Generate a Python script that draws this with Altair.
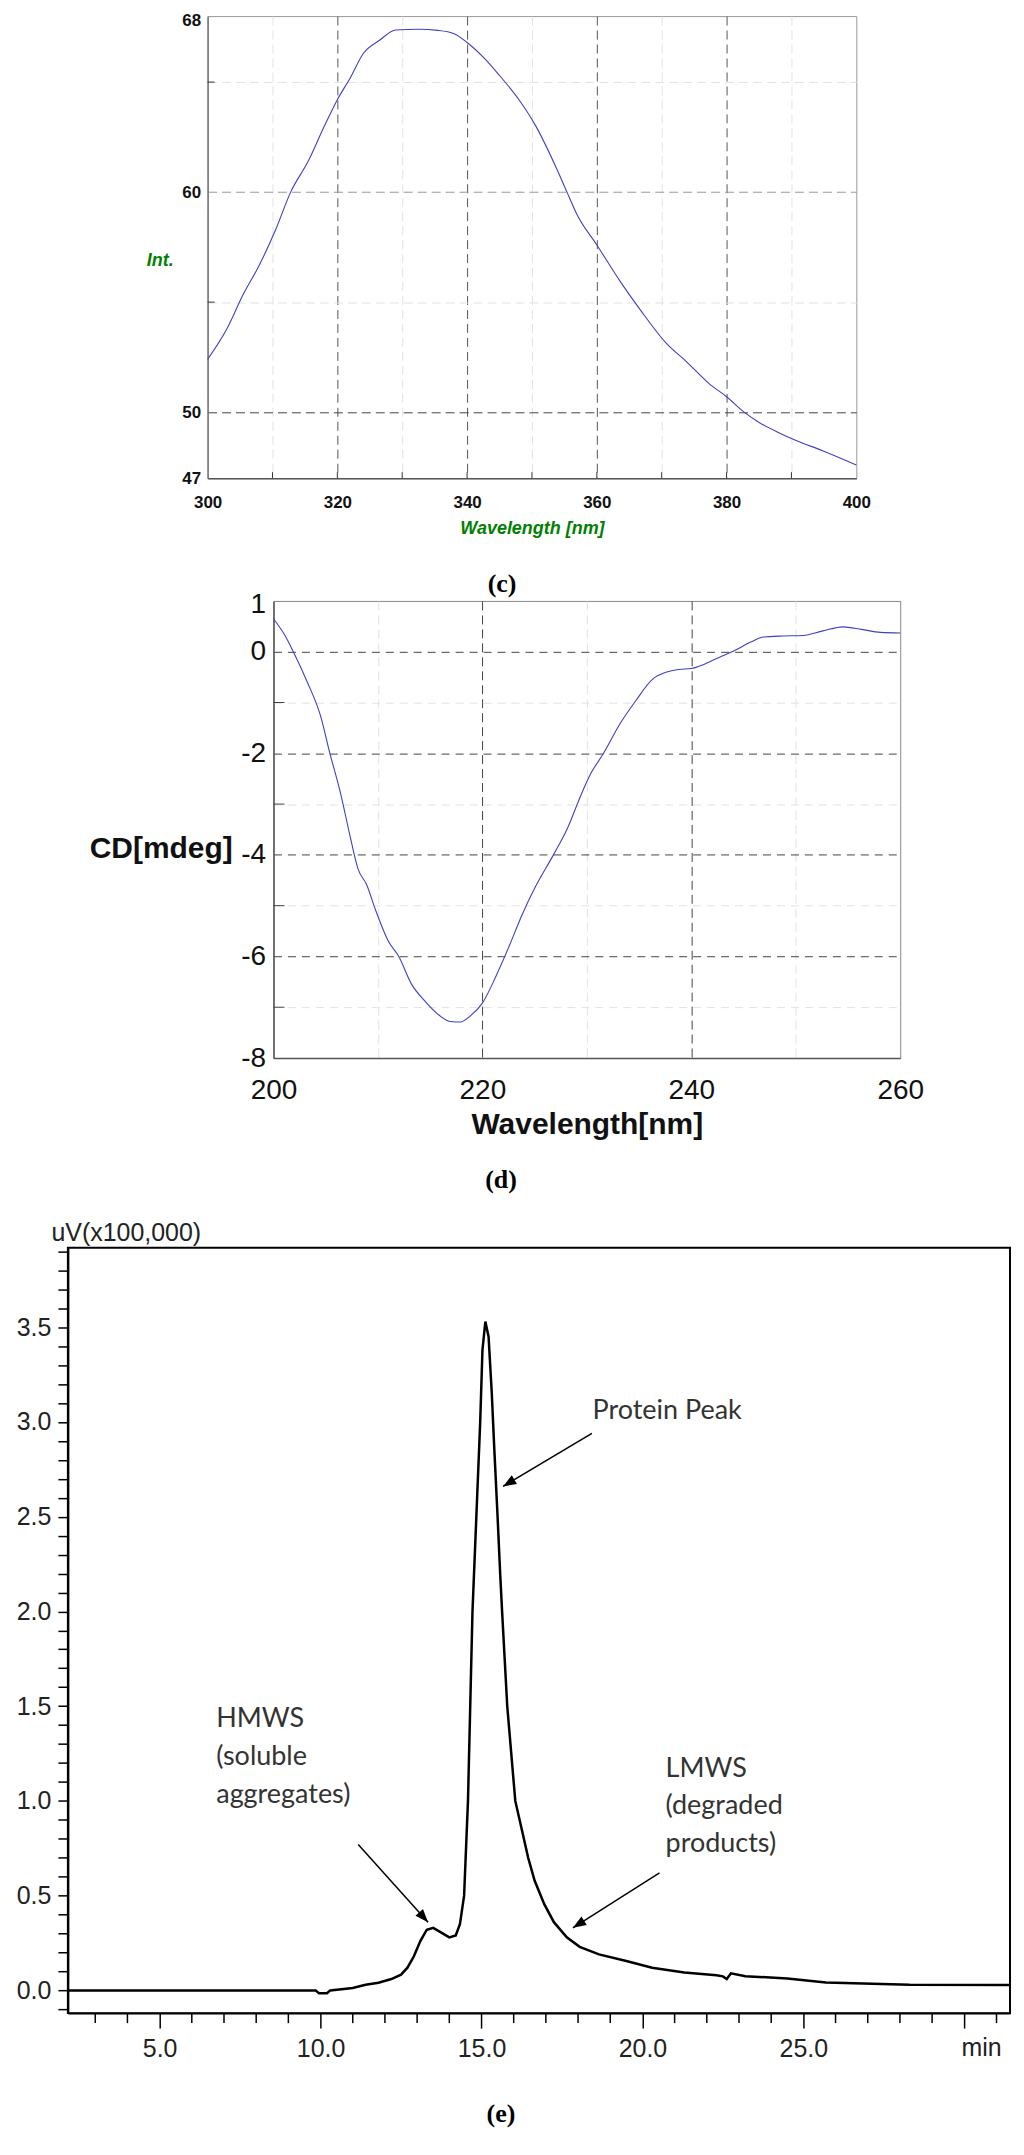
import json
import altair as alt
import pandas as pd

# ---------------- (c) intrinsic fluorescence ----------------
C_WAVELENGTH = [300, 303, 305.4, 308, 310.5, 312.8, 315.5, 318, 320, 322, 324, 326.5, 329, 332.5,
                335.5, 338, 340, 342.6, 345, 348, 350.6, 353.6, 355.4, 357, 360, 363.7, 366.7,
                370.8, 373.8, 377.3, 380, 382.7, 385.2, 387.8, 390.8, 394.8, 400]
C_INTENSITY = [52.4, 53.8, 55.3, 56.7, 58.3, 60.0, 61.4, 63.0, 64.2, 65.2, 66.3, 66.9, 67.37, 67.4,
               67.35, 67.2, 66.8, 66.1, 65.3, 64.2, 63.0, 61.2, 60.0, 58.95, 57.6, 55.9, 54.65,
               53.1, 52.3, 51.3, 50.7, 50.0, 49.5, 49.1, 48.7, 48.25, 47.6]
C_X_DOMAIN = [300, 400]
C_Y_DOMAIN = [47, 68]
C_X_TICKS = [300, 310, 320, 330, 340, 350, 360, 370, 380, 390, 400]
C_X_LABELS = [300, 320, 340, 360, 380, 400]
C_X_MAJOR = [320, 340, 360, 380]
C_Y_TICKS = [47, 50, 55, 60, 65, 68]
C_Y_LABELS = [47, 50, 60, 68]
C_Y_MINOR = [55, 65]

# ---------------- (d) far-UV CD ----------------
D_WAVELENGTH = [200, 201.1, 201.9, 203.2, 204.5, 205.4, 206.4, 207.3, 208.1, 208.9, 209.8, 211, 212,
                213.2, 214.5, 215.7, 216.9, 217.9, 218.8, 220, 221.3, 222.6, 223.8, 225.1, 226.8,
                228.2, 229.4, 230.4, 231.6, 233.2, 234.7, 236.3, 237.5, 238.8, 240, 241.3, 242.9,
                244.1, 245.7, 246.9, 248.8, 250.7, 252.6, 254.5, 256.3, 258.1, 260]
D_CD = [0.65, 0.32, 0.0, -0.58, -1.26, -2.0, -2.77, -3.6, -4.28, -4.58, -5.1, -5.7, -6.0, -6.54,
        -6.88, -7.13, -7.28, -7.29, -7.18, -6.92, -6.39, -5.78, -5.18, -4.62, -4.0, -3.45, -2.84,
        -2.39, -2.0, -1.41, -0.96, -0.54, -0.41, -0.35, -0.33, -0.24, -0.09, 0.02, 0.19, 0.29,
        0.31, 0.32, 0.41, 0.49, 0.44, 0.38, 0.37]
D_X_DOMAIN = [200, 260]
D_Y_DOMAIN = [-8, 1]
D_X_TICKS = [200, 210, 220, 230, 240, 250, 260]
D_X_LABELS = [200, 220, 240, 260]
D_X_MAJOR = [220, 240]
D_Y_TICKS = [-8, -7, -6, -5, -4, -3, -2, -1, 0, 1]
D_Y_LABELS = [1, 0, -2, -4, -6, -8]
D_Y_MAJOR = [0, -2, -4, -6]
D_Y_MINOR = [-1, -3, -5, -7]

# ---------------- (e) SEC chromatogram ----------------
E_TIME = [2.15, 9.85, 9.95, 10.2, 10.3, 11.0, 11.4, 11.8, 12.2, 12.5, 12.7, 12.9, 13.1, 13.3, 13.5,
          13.7, 14.0, 14.2, 14.33, 14.46, 14.58, 14.65, 14.72, 14.84, 14.96, 15.03, 15.12, 15.22,
          15.32, 15.4, 15.5, 15.58, 15.64, 15.72, 15.8, 15.9, 16.05, 16.25, 16.45, 16.65, 16.95,
          17.25, 17.65, 18.05, 18.65, 19.5, 20.3, 21.3, 22.3, 22.5, 22.62, 22.75, 23.2, 24.5,
          25.7, 28.3, 31.42]
E_SIGNAL = [0.0, 0.0, -0.015, -0.015, 0.0, 0.013, 0.03, 0.04, 0.06, 0.083, 0.12, 0.18, 0.26, 0.32,
            0.33, 0.31, 0.28, 0.29, 0.35, 0.5, 1.0, 1.5, 2.0, 2.5, 3.0, 3.38, 3.53, 3.45, 3.15,
            2.85, 2.5, 2.2, 2.0, 1.75, 1.5, 1.3, 1.0, 0.85, 0.7, 0.58, 0.455, 0.36, 0.28, 0.23,
            0.19, 0.155, 0.12, 0.095, 0.08, 0.074, 0.06, 0.09, 0.075, 0.063, 0.042, 0.03, 0.028]
E_X_DOMAIN = [2.15, 31.42]
E_Y_DOMAIN = [-0.12, 3.92]
E_X_MAJOR = [5, 10, 15, 20, 25, 30]
E_X_LABELS = [5, 10, 15, 20, 25]
E_X_MINOR = [m for m in range(3, 32) if m % 5]
E_Y_TICKS = [round(-0.1 + 0.1 * i, 1) for i in range(41)]
E_Y_LABELS = [0.0, 0.5, 1.0, 1.5, 2.0, 2.5, 3.0, 3.5]
E_NOTE_TEXT = ["Protein Peak", "HMWS", "(soluble", "aggregates)", "LMWS", "(degraded", "products)"]
E_NOTE_X = [18.45, 6.76, 6.76, 6.76, 20.72, 20.72, 20.72]
E_NOTE_Y = [3.06, 1.43, 1.23, 1.03, 1.17, 0.975, 0.775]
E_ARROW_X0 = [18.43, 11.17, 20.53]
E_ARROW_Y0 = [2.94, 0.77, 0.62]
E_ARROW_X1 = [15.67, 13.34, 17.84]
E_ARROW_Y1 = [2.66, 0.36, 0.33]
E_ARROW_ANGLE = [239, 138, 238]

FONT = "Liberation Sans"
SERIF = "Liberation Serif"
GREEN = "#008000"
BLUE = "#4040c0"
ARROW = "M0,0L-0.38,1L0.38,1Z"


def in_list(vals):
    return "indexof(" + json.dumps(vals) + ", datum.value) >= 0"


def caption(text, orient, dx, offset, anchor="middle"):
    return alt.TitleParams(text=text, orient=orient, anchor=anchor, frame="group", dx=dx,
                           offset=offset, baseline="bottom" if orient == "top" else "top",
                           font=SERIF, fontSize=26, fontWeight="bold", color="#000")


def spacer(w, h):
    return alt.Chart(pd.DataFrame({"s": [0]})).mark_point(opacity=0).encode(
        x=alt.value(10), y=alt.value(10)
    ).properties(width=w, height=h, view=alt.ViewBackground(stroke="transparent"))


# ---------------- panel (c) ----------------
CW, CH = 650, 463
c_xs = alt.Scale(domain=C_X_DOMAIN, nice=False, zero=False)
c_ys = alt.Scale(domain=C_Y_DOMAIN, nice=False, zero=False)
c_xaxis = alt.Axis(
    values=C_X_TICKS, labelExpr=in_list(C_X_LABELS) + " ? datum.label : ''",
    labelFont=FONT, labelFontSize=17, labelFontWeight="bold", labelColor="#111",
    labelPadding=16, labelOverlap=False, labelFlush=False, ticks=False, tickSize=0,
    domainColor="#555", domainWidth=1.5, grid=True, gridDash=[9, 5], gridWidth=1,
    gridColor={"condition": {"test": in_list(C_X_MAJOR), "value": "#555"}, "value": "#e2e2e2"},
    gridOpacity={"condition": {"test": in_list(C_X_DOMAIN), "value": 0}, "value": 1},
    title="Wavelength [nm]", titleFont=FONT, titleFontSize=18, titleFontStyle="italic",
    titleFontWeight="bold", titleColor=GREEN, titleY=50, titleBaseline="middle")
c_yaxis = alt.Axis(
    values=C_Y_TICKS, labelExpr=in_list(C_Y_LABELS) + " ? datum.label : ''",
    labelFont=FONT, labelFontSize=17, labelFontWeight="bold", labelColor="#111",
    labelPadding=7, labelOverlap=False, ticks=False, tickSize=0,
    labelOffset={"condition": {"test": "datum.value == 68", "value": 4}, "value": 0},
    domainColor="#777", domainWidth=1.5, grid=True, gridDash=[9, 5], gridWidth=1,
    gridColor={"condition": [{"test": "datum.value == 50", "value": "#444"},
                             {"test": "datum.value == 60", "value": "#999"}], "value": "#e2e2e2"},
    gridOpacity={"condition": {"test": in_list(C_Y_DOMAIN), "value": 0}, "value": 1},
    title="Int.", titleFont=FONT, titleFontSize=18, titleFontStyle="italic",
    titleFontWeight="bold", titleColor=GREEN, titleAngle=0, titleX=-48, titleY=245,
    titleAlign="center", titleBaseline="middle")
c_X = alt.X("wl:Q", scale=c_xs, axis=c_xaxis)
c_Y = alt.Y("val:Q", scale=c_ys, axis=c_yaxis)

c_line = alt.Chart(pd.DataFrame({"wl": C_WAVELENGTH, "val": C_INTENSITY})).mark_line(
    color=BLUE, strokeWidth=1.1, interpolate="monotone").encode(x=c_X, y=c_Y)
c_xt = alt.Chart(pd.DataFrame({"wl": C_X_TICKS[1:-1]})).mark_rule(color="#333", strokeWidth=1).encode(
    x=c_X, y=alt.value(CH), y2=alt.value(CH - 6))
c_yt = alt.Chart(pd.DataFrame({"val": C_Y_MINOR})).mark_rule(color="#333", strokeWidth=1).encode(
    y=c_Y, x=alt.value(0), x2=alt.value(7))
panel_c = alt.layer(c_line, c_xt, c_yt).properties(
    width=CW, height=CH, view=alt.ViewBackground(stroke="#999", strokeWidth=1))

# ---------------- panel (d) ----------------
DW, DH = 628, 458
d_xs = alt.Scale(domain=D_X_DOMAIN, nice=False, zero=False)
d_ys = alt.Scale(domain=D_Y_DOMAIN, nice=False, zero=False)
d_xaxis = alt.Axis(
    values=D_X_TICKS, labelExpr=in_list(D_X_LABELS) + " ? '' + datum.value : ''",
    labelFont=FONT, labelFontSize=28, labelColor="#111", labelPadding=19, labelOverlap=False,
    labelFlush=False, ticks=False, tickSize=0, domainColor="#555", domainWidth=1.5,
    grid=True, gridDash=[9, 5], gridWidth=1,
    gridColor={"condition": {"test": in_list(D_X_MAJOR), "value": "#444"}, "value": "#e2e2e2"},
    gridOpacity={"condition": {"test": in_list(D_X_DOMAIN), "value": 0}, "value": 1},
    title="Wavelength[nm]", titleFont=FONT, titleFontSize=30, titleFontWeight="bold",
    titleColor="#111", titleY=67, titleBaseline="middle")
d_yaxis = alt.Axis(
    values=D_Y_TICKS, labelExpr=in_list(D_Y_LABELS) + " ? '' + datum.value : ''",
    labelFont=FONT, labelFontSize=28, labelColor="#111", labelPadding=8, labelOverlap=False,
    labelOffset={"condition": {"test": "datum.value == 1", "value": 4}, "value": 0},
    ticks=False, tickSize=0, domainColor="#555", domainWidth=1.5,
    grid=True, gridDash=[8, 6], gridWidth=1,
    gridColor={"condition": {"test": in_list(D_Y_MAJOR), "value": "#444"}, "value": "#e2e2e2"},
    gridOpacity={"condition": {"test": in_list(D_Y_DOMAIN), "value": 0}, "value": 1},
    title="CD[mdeg]", titleFont=FONT, titleFontSize=30, titleFontWeight="bold", titleColor="#111",
    titleAngle=0, titleX=-113, titleY=248, titleAlign="center", titleBaseline="middle")
d_X = alt.X("wl:Q", scale=d_xs, axis=d_xaxis)
d_Y = alt.Y("val:Q", scale=d_ys, axis=d_yaxis)

d_line = alt.Chart(pd.DataFrame({"wl": D_WAVELENGTH, "val": D_CD})).mark_line(
    color=BLUE, strokeWidth=1.1, interpolate="monotone").encode(x=d_X, y=d_Y)
d_yt = alt.Chart(pd.DataFrame({"val": D_Y_MINOR})).mark_rule(color="#444", strokeWidth=1).encode(
    y=d_Y, x=alt.value(0), x2=alt.value(11))
panel_d = alt.layer(d_line, d_yt).properties(
    width=DW, height=DH, view=alt.ViewBackground(stroke="#888", strokeWidth=1),
    title=caption("(c)", "top", -85, -32))

# ---------------- panel (e) ----------------
EW, EH = 944, 767
e_xs = alt.Scale(domain=E_X_DOMAIN, nice=False, zero=False)
e_ys = alt.Scale(domain=E_Y_DOMAIN, nice=False, zero=False)
e_xaxis = alt.Axis(
    values=E_X_MAJOR, labelExpr=in_list(E_X_LABELS) + " ? format(datum.value, '.1f') : ''",
    labelFont=FONT, labelFontSize=25, labelColor="#222", labelPadding=8, labelOverlap=False,
    labelFlush=False, tickSize=15, tickWidth=1.5, tickColor="#000",
    domainColor="#000", domainWidth=2, grid=False,
    title="min", titleFont=FONT, titleFontSize=25, titleFontWeight="normal", titleColor="#222",
    titleX=915, titleY=34, titleAlign="center", titleBaseline="middle")
e_yaxis = alt.Axis(
    values=E_Y_TICKS, labelExpr=in_list(E_Y_LABELS) + " ? format(datum.value, '.1f') : ''",
    labelFont=FONT, labelFontSize=25, labelColor="#222", labelPadding=7, labelOverlap=False,
    tickSize=10, tickWidth=1.5, tickColor="#000", domainColor="#000", domainWidth=2, grid=False,
    title="uV(x100,000)", titleFont=FONT, titleFontSize=25, titleFontWeight="normal",
    titleColor="#222", titleAngle=0, titleX=-17, titleY=-15, titleAlign="left",
    titleBaseline="middle")
e_X = alt.X("t:Q", scale=e_xs, axis=e_xaxis)
e_Y = alt.Y("v:Q", scale=e_ys, axis=e_yaxis)

e_line = alt.Chart(pd.DataFrame({"t": E_TIME, "v": E_SIGNAL})).mark_line(
    color="#000", strokeWidth=2.5).encode(x=e_X, y=e_Y)
e_minor = alt.Chart(pd.DataFrame({"t": E_X_MINOR})).mark_rule(color="#000", strokeWidth=1.5).encode(
    x=e_X, y=alt.value(EH), y2=alt.value(EH + 10))
arrows_df = pd.DataFrame({"t": E_ARROW_X0, "v": E_ARROW_Y0, "t2": E_ARROW_X1, "v2": E_ARROW_Y1,
                          "ang": E_ARROW_ANGLE})
e_arrow = alt.Chart(arrows_df).mark_rule(color="#000", strokeWidth=1.5).encode(
    x=e_X, y=e_Y, x2="t2:Q", y2="v2:Q")
e_head = alt.Chart(arrows_df).mark_point(shape=ARROW, filled=True, color="#000", size=700,
                                         opacity=1).encode(
    x=alt.X("t2:Q", scale=e_xs, axis=e_xaxis), y=alt.Y("v2:Q", scale=e_ys, axis=e_yaxis),
    angle=alt.Angle("ang:Q", scale=None))
e_text = alt.Chart(pd.DataFrame({"t": E_NOTE_X, "v": E_NOTE_Y, "txt": E_NOTE_TEXT})).mark_text(
    align="left", baseline="middle", font="Lato", fontSize=27, color="#333"
).encode(x=e_X, y=e_Y, text="txt:N")
panel_e = alt.layer(e_line, e_minor, e_arrow, e_head, e_text).properties(
    width=EW, height=EH, view=alt.ViewBackground(stroke="#000", strokeWidth=2),
    title=caption("(d)", "top", -38, 2))

chart = alt.vconcat(
    alt.hconcat(spacer(199, 554.5), panel_c, spacing=0, bounds="flush"),
    alt.hconcat(spacer(265, 565), panel_d, spacing=0, bounds="flush"),
    alt.hconcat(spacer(59, 767), panel_e, spacing=0, bounds="flush"),
    spacing=0, title=alt.TitleParams(text="(e)", orient="bottom", anchor="start", dx=479,
                                     offset=39, baseline="top", font=SERIF, fontSize=26,
                                     fontWeight="bold", color="#000")
).properties(padding=0, background="white")

chart.save("out.html", embed_options={"renderer": "svg", "actions": False})
